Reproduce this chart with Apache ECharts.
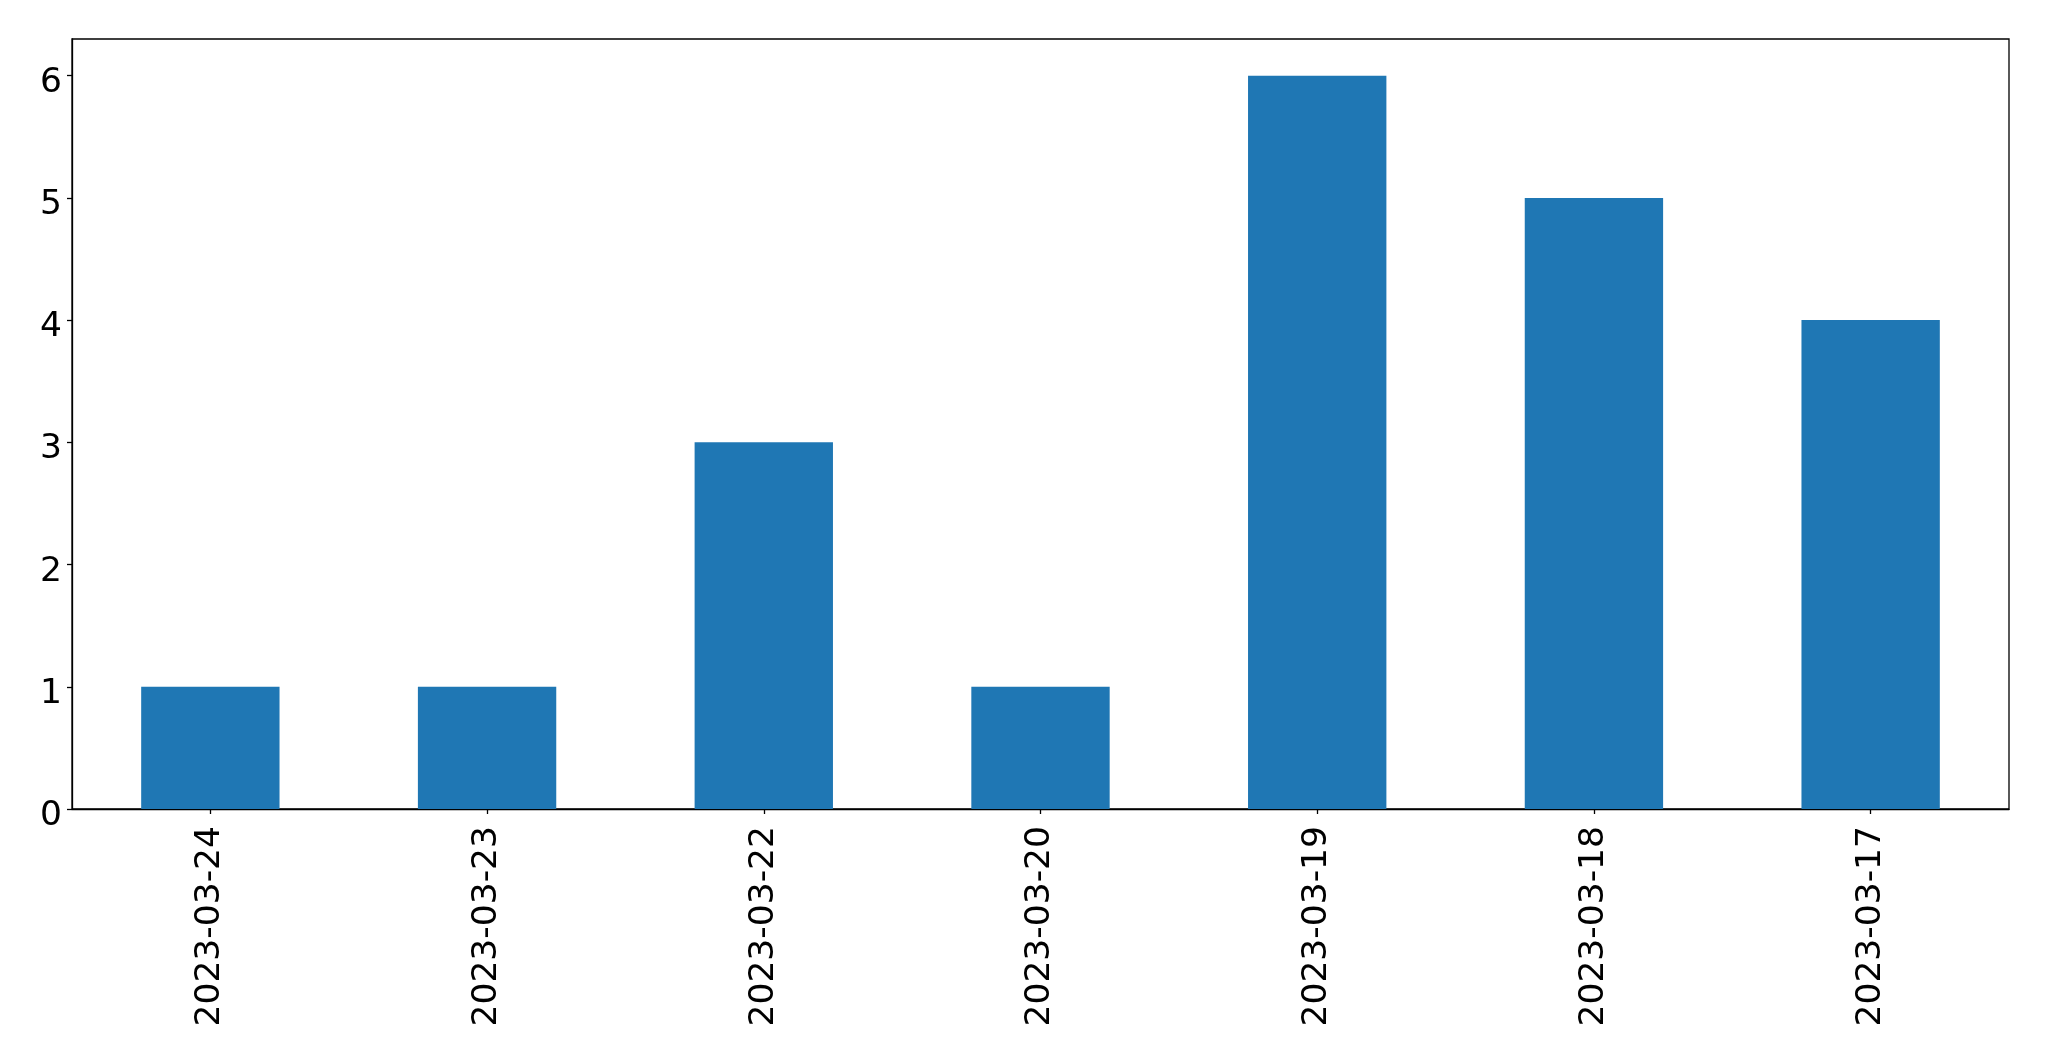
<!DOCTYPE html>
<html>
<head>
<meta charset="utf-8">
<script src="https://cdn.jsdelivr.net/npm/echarts@6/dist/echarts.min.js"></script>
<style>
html,body{margin:0;padding:0;background:#fff;}
#chart{width:2049px;height:1061px;}
</style>
</head>
<body>
<div id="chart"></div>
<script>
const categories = ["2023-03-24","2023-03-23","2023-03-22","2023-03-20","2023-03-19","2023-03-18","2023-03-17"];
const values = [1, 1, 3, 1, 6, 5, 4];
const yTicks = [0, 1, 2, 3, 4, 5, 6];

const chart = echarts.init(document.getElementById('chart'), null, {renderer: 'canvas'});
chart.setOption({
  animation: false,
  backgroundColor: '#ffffff',
  grid: {
    left: 72, top: 39, right: 40, bottom: 252,
    show: true, borderColor: '#000', borderWidth: 1.3, backgroundColor: 'transparent'
  },
  xAxis: {
    type: 'category',
    data: categories,
    boundaryGap: true,
    axisLine: {show: true, lineStyle: {color: '#000', width: 1.3}},
    axisTick: {show: true, alignWithLabel: true, length: 5, lineStyle: {color: '#000', width: 1.3}},
    axisLabel: {
      rotate: 90, interval: 0, margin: 17,
      color: '#000', fontSize: 34.5, fontFamily: 'DejaVu Sans'
    },
    splitLine: {show: false}
  },
  yAxis: {
    type: 'value',
    min: 0, max: 6.3, interval: 1,
    axisLine: {show: true, lineStyle: {color: '#000', width: 1.3}},
    axisTick: {show: true, length: 5, customValues: yTicks, lineStyle: {color: '#000', width: 1.3}},
    axisLabel: {
      customValues: yTicks, margin: 10, verticalAlign: 'top', lineHeight: 14,
      color: '#000', fontSize: 34.5, fontFamily: 'DejaVu Sans'
    },
    splitLine: {show: false}
  },
  series: [{
    type: 'bar',
    data: values,
    barWidth: '50%',
    itemStyle: {color: '#1f77b4'}
  }]
});
</script>
</body>
</html>
